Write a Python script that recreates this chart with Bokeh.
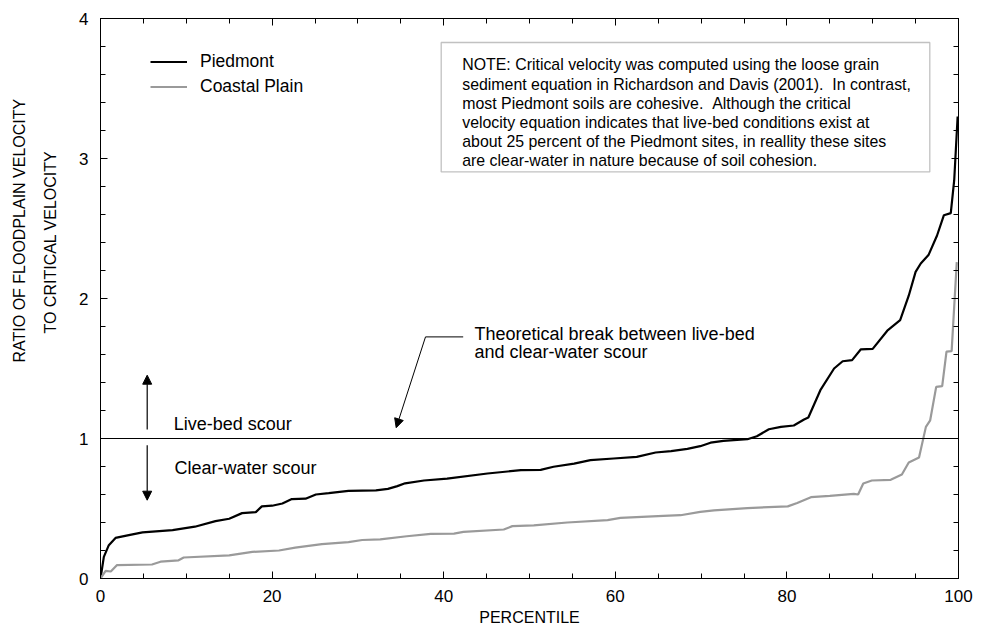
from bokeh.plotting import figure
from bokeh.models import (Range1d, SingleIntervalTicker, LinearAxis, Span, Label,
                          Arrow, NormalHead, BoxAnnotation, Legend, LegendItem,
                          CustomJSTickFormatter, Title)
from bokeh.embed import file_html
from bokeh.resources import INLINE

# ---------------- data ----------------
piedmont_pct = [0, 0.39, 0.97, 1.75, 3.3, 4.9, 8.4, 11.0, 13.4, 15.0, 16.5, 18.1, 18.8,
                20.0, 21.2, 22.3, 23.9, 25.1, 26.6, 28.9, 32.1, 33.5, 34.6, 35.5, 37.7,
                40.4, 45.1, 49.0, 51.3, 52.8, 55.2, 57.1, 59.8, 62.5, 64.7, 66.5, 68.4,
                69.9, 71.1, 72.6, 75.4, 76.5, 77.9, 79.3, 80.8, 82.0, 82.5, 83.9, 85.5,
                86.5, 87.6, 88.6, 90.0, 91.7, 93.2, 94.2, 95.0, 95.6, 96.5, 97.5, 98.3,
                99.1, 99.5, 99.9]
piedmont_ratio = [0, 0.154, 0.238, 0.29, 0.31, 0.33, 0.345, 0.37, 0.41, 0.427, 0.467, 0.474,
                  0.515, 0.52, 0.536, 0.567, 0.57, 0.60, 0.61, 0.626, 0.63, 0.64, 0.66, 0.68,
                  0.70, 0.714, 0.75, 0.774, 0.776, 0.798, 0.821, 0.845, 0.857, 0.869, 0.90,
                  0.91, 0.926, 0.945, 0.97, 0.983, 0.995, 1.016, 1.066, 1.083, 1.093, 1.136,
                  1.15, 1.345, 1.50, 1.552, 1.56, 1.636, 1.64, 1.77, 1.845, 2.02, 2.19, 2.25,
                  2.31, 2.45, 2.595, 2.61, 2.845, 3.30]

coastal_pct = [0, 0.6, 1.2, 1.9, 6.0, 7.0, 9.1, 9.7, 15.0, 17.7, 20.8, 22.7, 25.8, 28.9,
               30.5, 32.6, 35.7, 38.5, 41.2, 42.3, 47.0, 48.0, 50.5, 54.4, 59.1, 60.6,
               65.6, 67.6, 69.9, 71.5, 75.4, 80.1, 81.2, 82.8, 85.0, 87.8, 88.3, 88.9,
               89.9, 92.1, 93.4, 94.2, 95.4, 96.2, 96.7, 97.4, 98.1, 98.6, 99.2, 99.8]
coastal_ratio = [0, 0.054, 0.05, 0.095, 0.10, 0.12, 0.13, 0.15, 0.165, 0.19, 0.20, 0.22,
                 0.245, 0.26, 0.275, 0.28, 0.302, 0.319, 0.321, 0.333, 0.35, 0.374, 0.38,
                 0.40, 0.417, 0.433, 0.448, 0.452, 0.476, 0.487, 0.503, 0.515, 0.539,
                 0.581, 0.59, 0.605, 0.60, 0.679, 0.70, 0.705, 0.743, 0.829, 0.864, 1.083,
                 1.13, 1.369, 1.374, 1.62, 1.624, 2.26]

series_names = ["Piedmont", "Coastal Plain"]
x_label = "PERCENTILE"
y_label_lines = ["RATIO OF FLOODPLAIN VELOCITY", "TO CRITICAL VELOCITY"]
note_lines = [
    "NOTE: Critical velocity was computed using the loose grain",
    "sediment equation in Richardson and Davis (2001). \u00a0In contrast,",
    "most Piedmont soils are cohesive. \u00a0Although the critical",
    "velocity equation indicates that live-bed conditions exist at",
    "about 25 percent of the Piedmont sites, in reallity these sites",
    "are clear-water in nature because of soil cohesion.",
]
break_lines = ["Theoretical break between live-bed", "and clear-water scour"]
live_bed_text = "Live-bed scour"
clear_water_text = "Clear-water scour"

FONT = "Liberation Sans"

# ---------------- figure ----------------
p = figure(width=991, height=630, output_backend="svg", toolbar_location=None,
           x_range=Range1d(0, 100), y_range=Range1d(0, 4),
           min_border_left=100, min_border_right=33, min_border_top=18,
           min_border_bottom=52)
p.grid.visible = False
p.outline_line_color = "black"
p.outline_line_width = 1
p.background_fill_color = "white"
p.border_fill_color = "white"


def style_axis(ax, labels=True):
    ax.axis_line_color = "black"
    ax.axis_line_width = 1
    ax.major_tick_line_color = "black"
    ax.minor_tick_line_color = "black"
    ax.major_tick_in = 7
    ax.major_tick_out = 0
    ax.minor_tick_in = 5
    ax.minor_tick_out = 0
    if labels:
        ax.major_label_text_font = FONT
        ax.major_label_text_color = "black"
    else:
        ax.formatter = CustomJSTickFormatter(code="return ''")
        ax.major_label_text_font_size = "0px"
        ax.major_label_standoff = 0


xax = p.xaxis[0]
xax.ticker = SingleIntervalTicker(interval=20, num_minor_ticks=4)
style_axis(xax)
xax.major_label_text_font_size = "17px"
xax.major_label_standoff = 11
xax.axis_label = x_label
xax.axis_label_text_font = FONT
xax.axis_label_text_font_size = "16px"
xax.axis_label_text_font_style = "normal"
xax.axis_label_text_color = "black"
xax.axis_label_standoff = 4

yax = p.yaxis[0]
yax.ticker = SingleIntervalTicker(interval=1, num_minor_ticks=5)
style_axis(yax)
yax.major_label_text_font_size = "17px"
yax.major_label_standoff = 12

top_ax = LinearAxis(ticker=SingleIntervalTicker(interval=20, num_minor_ticks=4))
style_axis(top_ax, labels=False)
p.add_layout(top_ax, "above")
right_ax = LinearAxis(ticker=SingleIntervalTicker(interval=1, num_minor_ticks=5))
style_axis(right_ax, labels=False)
p.add_layout(right_ax, "right")

# y-axis title: two lines, as side titles (inner line first); offset from frame bottom
p.add_layout(Title(text=y_label_lines[1], align="left", offset=245, standoff=36,
                   text_font=FONT, text_font_size="16px", text_font_style="normal",
                   text_color="black"), "left")
p.add_layout(Title(text=y_label_lines[0], align="left", offset=216, standoff=-12,
                   text_font=FONT, text_font_size="16px", text_font_style="normal",
                   text_color="black"), "left")

# ---------------- series ----------------
r_pied = p.line(piedmont_pct, piedmont_ratio, line_color="black", line_width=2.2)
r_coast = p.line(coastal_pct, coastal_ratio, line_color="#9a9a9a", line_width=2.2)

legend = Legend(items=[LegendItem(label=series_names[0], renderers=[r_pied]),
                       LegendItem(label=series_names[1], renderers=[r_coast])],
                location=(40, 469), glyph_width=37, glyph_height=25, label_height=25,
                label_standoff=13, spacing=0, padding=10, margin=0,
                border_line_alpha=0, background_fill_alpha=0,
                label_text_font=FONT, label_text_font_size="17.5px",
                label_text_color="black")
p.add_layout(legend)

p.add_layout(Span(location=1, dimension="width", line_color="black", line_width=1))


# ---------------- annotations ----------------
# helpers converting reference pixels to data units (frame: x 100..958, y 578.3..18.3)
def dx(px):
    return (px - 100) / 8.58


def dy(py):
    return (578.3 - py) / 140.0


# note box
p.add_layout(BoxAnnotation(left=dx(440.7), right=dx(929.3), top=dy(42.3), bottom=dy(171.7),
                           fill_alpha=0, line_color="#333333", line_width=1.3))
for i, line in enumerate(note_lines):
    p.add_layout(Label(x=dx(461.7), y=dy(64.7 + 19.2 * i), text=line,
                       text_align="left", text_baseline="alphabetic", text_font=FONT,
                       text_font_size="15.9px", text_color="black"))

# theoretical break text + leader
for i, line in enumerate(break_lines):
    p.add_layout(Label(x=dx(474), y=dy(333.3 + 18.3 * i), text=line, text_align="left",
                       text_baseline="alphabetic", text_font=FONT, text_font_size="18px",
                       text_color="black"))
p.add_layout(Arrow(end=None, x_start=dx(462.7), y_start=dy(336.7), x_end=dx(425),
                   y_end=dy(336.7), line_color="black", line_width=1))
p.add_layout(Arrow(end=NormalHead(size=9, fill_color="black", line_color="black"),
                   x_start=dx(425), y_start=dy(336.7), x_end=dx(395.7), y_end=dy(427.5),
                   line_color="black", line_width=1))

# live-bed / clear-water
p.add_layout(Label(x=dx(173.3), y=dy(423.3), text=live_bed_text, text_align="left",
                   text_baseline="alphabetic", text_font=FONT, text_font_size="18px",
                   text_color="black"))
p.add_layout(Label(x=dx(174), y=dy(467.3), text=clear_water_text, text_align="left",
                   text_baseline="alphabetic", text_font=FONT, text_font_size="18px",
                   text_color="black"))
p.add_layout(Arrow(end=NormalHead(size=9, fill_color="black", line_color="black"),
                   x_start=dx(146.7), y_start=dy(429.3), x_end=dx(146.7), y_end=dy(375),
                   line_color="black", line_width=1.2))
p.add_layout(Arrow(end=NormalHead(size=9, fill_color="black", line_color="black"),
                   x_start=dx(146.7), y_start=dy(445), x_end=dx(146.7), y_end=dy(500),
                   line_color="black", line_width=1.2))

open("out.html", "w").write(file_html(p, INLINE))
